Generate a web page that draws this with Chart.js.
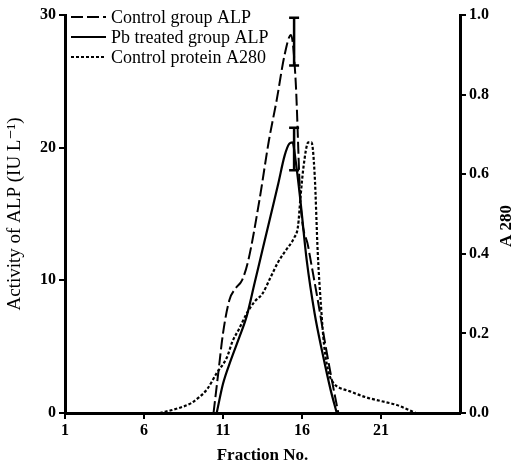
<!DOCTYPE html>
<html>
<head>
<meta charset="utf-8">
<script src="https://cdn.jsdelivr.net/npm/chart.js@4.4.1/dist/chart.umd.min.js"></script>
<style>
  html, body { margin: 0; padding: 0; background: #fff; }
  #wrap { width: 521px; height: 470px; }
</style>
</head>
<body>
<div id="wrap"><canvas id="chart" width="521" height="470"></canvas></div>
<script>
// Control group ALP (IU/L), left axis
const controlFractions = [10.4, 10.7, 11.0, 11.4, 11.8, 12.2, 12.6, 13.3, 13.9, 14.4, 14.9, 15.3, 15.6, 15.9, 16.4, 17.0, 17.5, 18.0, 18.3];
const controlALP       = [0, 3, 6, 8.5, 9.4, 10, 11.5, 16, 20.5, 23.6, 27, 28.5, 25, 16, 12.5, 8.5, 5, 1.8, 0];

// Pb treated group ALP (IU/L), left axis
const pbFractions = [10.6, 11.0, 11.5, 12.0, 12.5, 13.0, 13.5, 14.0, 14.5, 14.9, 15.2, 15.4, 15.6, 15.9, 16.3, 16.8, 17.3, 17.8, 18.2];
const pbALP       = [0, 2.2, 4, 5.6, 7.3, 9.8, 12.3, 14.8, 17.3, 19.4, 20.3, 20.4, 19, 16, 11.5, 7.5, 4.5, 1.8, 0];

// Control protein A280, right axis
const proteinFractions = [7.0, 8.0, 9.0, 9.5, 10.0, 10.6, 11.25, 11.6, 12.0, 12.5, 13.0, 13.5, 14.0, 14.5, 15.0, 15.5, 15.75, 15.9, 16.1, 16.4, 16.6, 16.8, 17.0, 17.2, 17.4, 17.7, 18.0, 18.3, 19.0, 20.0, 21.0, 22.0, 23.2];
const proteinA280      = [0, 0.01, 0.025, 0.04, 0.06, 0.10, 0.14, 0.18, 0.21, 0.25, 0.28, 0.30, 0.34, 0.38, 0.41, 0.44, 0.47, 0.54, 0.62, 0.68, 0.68, 0.60, 0.40, 0.27, 0.17, 0.10, 0.075, 0.065, 0.055, 0.04, 0.03, 0.02, 0];

// Error bars at the peaks (IU/L)
const errorFractions = [15.5, 15.5];
const errorLow       = [26.2, 18.3];
const errorHigh      = [29.8, 21.5];

const xTicks = [1, 6, 11, 16, 21];

const serif = '"Liberation Serif", "DejaVu Serif", serif';

function toPoints(xs, ys) {
  return xs.map((x, i) => ({ x: x, y: ys[i] }));
}

// Draws the vertical error bars with caps
const errorBarPlugin = {
  id: 'errorBars',
  afterDatasetsDraw(chart) {
    const ctx = chart.ctx;
    const xs = chart.scales.x;
    const ys = chart.scales.y;
    ctx.save();
    ctx.strokeStyle = '#000';
    ctx.lineWidth = 2.5;
    errorFractions.forEach((f, i) => {
      const px = xs.getPixelForValue(f);
      const top = ys.getPixelForValue(errorHigh[i]);
      const bottom = ys.getPixelForValue(errorLow[i]);
      ctx.beginPath();
      ctx.moveTo(px, top);
      ctx.lineTo(px, bottom);
      ctx.moveTo(px - 5, top);
      ctx.lineTo(px + 5, top);
      ctx.moveTo(px - 5, bottom);
      ctx.lineTo(px + 5, bottom);
      ctx.stroke();
    });
    ctx.restore();
  }
};

// Legend in the top-left corner of the plot, line samples + labels
const lineLegendPlugin = {
  id: 'lineLegend',
  afterDraw(chart) {
    const ctx = chart.ctx;
    const area = chart.chartArea;
    ctx.save();
    ctx.font = '18px ' + serif;
    ctx.textBaseline = 'middle';
    ctx.fillStyle = '#000';
    chart.data.datasets.forEach((ds, i) => {
      const y = area.top + 2 + i * 20;
      ctx.beginPath();
      ctx.setLineDash(ds.borderDash || []);
      ctx.lineWidth = ds.borderWidth;
      ctx.strokeStyle = '#000';
      ctx.moveTo(area.left + 6, y);
      ctx.lineTo(area.left + 41, y);
      ctx.stroke();
      ctx.setLineDash([]);
      ctx.fillText(ds.label, area.left + 46, y + 1);
    });
    ctx.restore();
  }
};

// Right axis title, reading bottom-to-top like the left one
const rightTitlePlugin = {
  id: 'rightTitle',
  afterDraw(chart) {
    const ctx = chart.ctx;
    const area = chart.chartArea;
    ctx.save();
    ctx.translate(chart.width - 14, (area.top + area.bottom) / 2 + 12);
    ctx.rotate(-Math.PI / 2);
    ctx.font = 'bold 17px ' + serif;
    ctx.fillStyle = '#000';
    ctx.textAlign = 'center';
    ctx.textBaseline = 'middle';
    ctx.fillText('A 280', 0, 0);
    ctx.restore();
  }
};

const tickFont = { family: serif, size: 16, weight: 'bold' };

new Chart(document.getElementById('chart'), {
  type: 'line',
  data: {
    datasets: [
      {
        label: 'Control group ALP',
        data: toPoints(controlFractions, controlALP),
        yAxisID: 'y',
        borderColor: '#000',
        borderWidth: 2,
        borderDash: [12, 4],
        pointRadius: 0,
        fill: false,
        cubicInterpolationMode: 'monotone'
      },
      {
        label: 'Pb treated group ALP',
        data: toPoints(pbFractions, pbALP),
        yAxisID: 'y',
        borderColor: '#000',
        borderWidth: 2.2,
        pointRadius: 0,
        fill: false,
        cubicInterpolationMode: 'monotone'
      },
      {
        label: 'Control protein A280',
        data: toPoints(proteinFractions, proteinA280),
        yAxisID: 'y2',
        borderColor: '#000',
        borderWidth: 2.2,
        borderDash: [3, 2],
        pointRadius: 0,
        fill: false,
        cubicInterpolationMode: 'monotone'
      }
    ]
  },
  options: {
    responsive: false,
    animation: false,
    layout: { padding: { top: 15, left: 0, right: 0, bottom: 0 } },
    plugins: {
      legend: { display: false },
      tooltip: { enabled: false }
    },
    scales: {
      x: {
        type: 'linear',
        min: 1,
        max: 26,
        afterBuildTicks(scale) {
          scale.ticks = xTicks.map(v => ({ value: v }));
        },
        afterFit(scale) { scale.height = 57; },
        grid: { drawOnChartArea: false, drawTicks: true, tickLength: 6, color: '#000', lineWidth: 2 },
        border: { display: true, color: '#000', width: 3 },
        ticks: { color: '#000', font: tickFont, padding: 2, maxRotation: 0 },
        title: {
          display: true,
          text: 'Fraction No.',
          color: '#000',
          font: { family: serif, size: 17, weight: 'bold' },
          padding: { top: 2, bottom: 4 }
        }
      },
      y: {
        position: 'left',
        min: 0,
        max: 30,
        ticks: { stepSize: 10, color: '#000', font: tickFont, padding: 3 },
        afterFit(scale) { scale.width = 65; },
        grid: { drawOnChartArea: false, drawTicks: true, tickLength: 6, color: '#000', lineWidth: 2 },
        border: { display: true, color: '#000', width: 3 },
        title: {
          display: true,
          text: 'Activity of ALP (IU L\u207B\u00B9)',
          color: '#000',
          font: { family: serif, size: 19 },
          padding: { top: 4, bottom: 0 }
        }
      },
      y2: {
        position: 'right',
        min: 0,
        max: 1,
        ticks: {
          stepSize: 0.2,
          color: '#000',
          font: tickFont,
          padding: 3,
          callback: v => v.toFixed(1)
        },
        afterFit(scale) { scale.width = 61; },
        grid: { drawOnChartArea: false, drawTicks: true, tickLength: 6, color: '#000', lineWidth: 2 },
        border: { display: true, color: '#000', width: 3 }
      }
    }
  },
  plugins: [errorBarPlugin, lineLegendPlugin, rightTitlePlugin]
});
</script>
</body>
</html>
